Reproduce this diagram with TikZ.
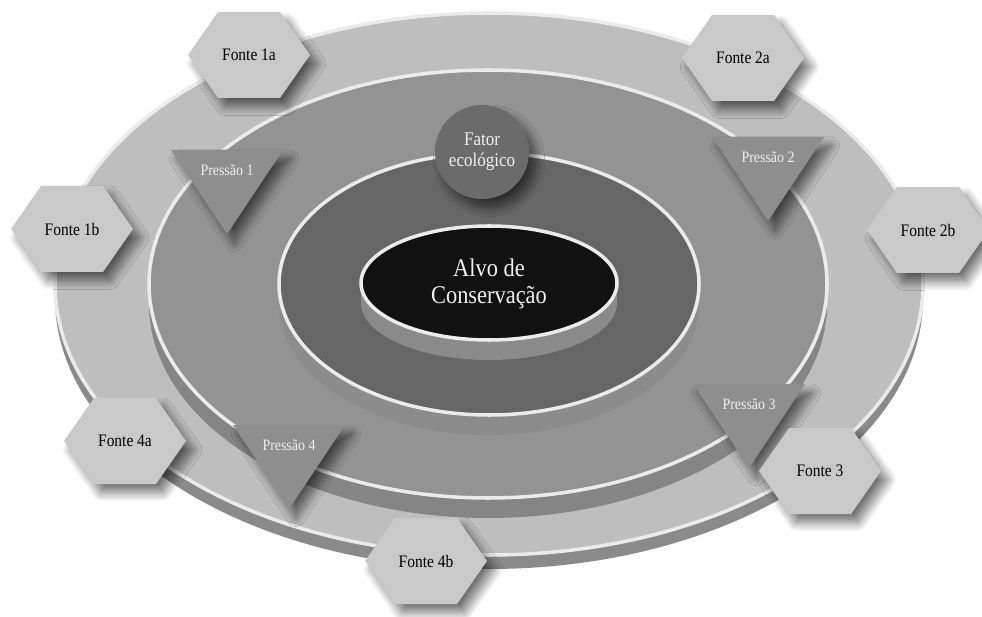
\documentclass[tikz,border=0pt]{standalone}
\usepackage{fontspec}
\setmainfont{Liberation Serif}[FakeStretch=0.88]
\usetikzlibrary{shadows.blur}

% greys of the stacked discs and the markers
\definecolor{discA}{HTML}{BEBEBE}
\definecolor{discAside}{HTML}{8A8A8A}
\definecolor{discB}{HTML}{939393}
\definecolor{discBside}{HTML}{858585}
\definecolor{discC}{HTML}{666666}
\definecolor{discCside}{HTML}{8C8C8C}
\definecolor{core}{HTML}{111111}
\definecolor{coreside}{HTML}{8A8A8A}
\definecolor{rim}{HTML}{EBEBEB}
\definecolor{hexfill}{HTML}{C9C9C9}
\definecolor{trifill}{HTML}{8E8E8E}
\definecolor{factorfill}{HTML}{6B6B6B}
\definecolor{lighttext}{HTML}{F0F0F0}

\tikzset{
  softshadow/.style={blur shadow={shadow xshift=4pt, shadow yshift=-5pt,
      shadow blur radius=5pt, shadow blur steps=12, shadow opacity=55}},
  hexshape/.style={fill=hexfill, softshadow},
  hextext/.style={font=\fontsize{10}{12}\selectfont, text=black, inner sep=1pt},
  trishape/.style={fill=trifill, softshadow},
  tritext/.style={font=\fontsize{9}{11}\selectfont, text=lighttext, inner sep=1pt},
  factorbox/.style={circle, fill=factorfill, minimum size=1.88cm, inner sep=0pt,
      align=center, text=lighttext, softshadow,
      font=\fontsize{11}{12}\selectfont},
  coretext/.style={align=center, text=lighttext,
      font=\fontsize{14.5}{15}\selectfont},
}

% a raised disc: side band, top face and bright rim
% #1,#2 centre  #3,#4 radii  #5 thickness  #6 face colour  #7 side colour
\newcommand\raiseddisc[7]{%
  \fill[#7] (#1,#2+#5) ellipse [x radius=#3, y radius=#4];
  \fill[#7] (#1-#3,#2) rectangle (#1+#3,#2+#5);
  \fill[#6] (#1,#2) ellipse [x radius=#3, y radius=#4];
  \draw[rim, line width=2pt] (#1,#2) ellipse [x radius=#3, y radius=#4];
}

% hexagonal source marker: name, centre, label
\newcommand\hexmarker[3]{%
  \path[hexshape] (#2) ++(-61,0) -- ++(30,-43) -- ++(62,0) -- ++(30,43)
        -- ++(-30,43) -- ++(-62,0) -- cycle;
  \node[hextext] (#1) at (#2) {#3};
}

% downward triangle pressure marker: name, middle of top edge, label
\newcommand\trimarker[3]{%
  \path[trishape] (#2) ++(-56,0) -- ++(112,0) -- ++(-56,84) -- cycle;
  \path (#2) ++(0,20) node[tritext] (#1) {#3};
}

\begin{document}
\begin{tikzpicture}[x=0.02cm, y=-0.02cm]
  \useasboundingbox (0,0) rectangle (982,617);

  % concentric discs
  \raiseddisc{489}{284}{434}{271}{14}{discA}{discAside}
  \raiseddisc{488}{284}{339}{214}{20}{discB}{discBside}
  \raiseddisc{489}{284}{210}{131}{20}{discC}{discCside}
  \raiseddisc{489}{283}{128}{57}{20}{core}{coreside}

  \node[coretext] (alvo) at (489,284) {Alvo de\\Conservação};
  \node[factorbox] (fator) at (482,152) {Fator\\ecológico};

  % pressures
  \trimarker{p1}{227,150}{Pressão 1}
  \trimarker{p2}{768,137}{Pressão 2}
  \trimarker{p3}{749,384}{Pressão 3}
  \trimarker{p4}{289,425}{Pressão 4}

  % sources
  \hexmarker{f1a}{249,55}{Fonte 1a}
  \hexmarker{f1b}{72,229}{Fonte 1b}
  \hexmarker{f2a}{743,58}{Fonte 2a}
  \hexmarker{f2b}{928,230}{Fonte 2b}
  \hexmarker{f3}{820,471}{Fonte 3}
  \hexmarker{f4a}{125,441}{Fonte 4a}
  \hexmarker{f4b}{426,561}{Fonte 4b}
\end{tikzpicture}
\end{document}
